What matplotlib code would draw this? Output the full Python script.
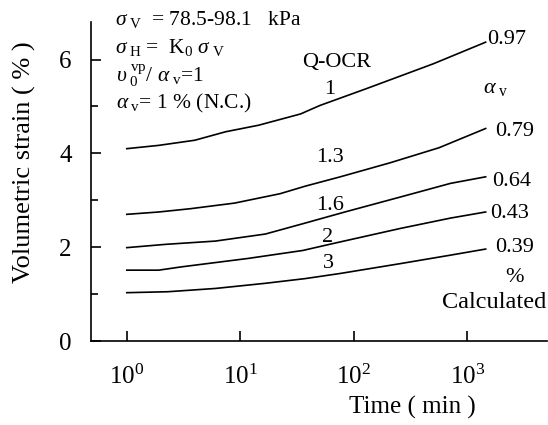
import matplotlib
matplotlib.use("Agg")
import matplotlib.pyplot as plt
from matplotlib.ticker import FixedLocator, NullLocator

plt.rcParams['font.family'] = ['Liberation Serif', 'DejaVu Serif']
plt.rcParams['mathtext.fontset'] = 'custom'
plt.rcParams['mathtext.rm'] = 'Liberation Serif'
plt.rcParams['mathtext.it'] = 'Liberation Serif:italic'
plt.rcParams['mathtext.bf'] = 'Liberation Serif:bold'

# Volumetric strain (%) against elapsed time (min) for each Q-OCR
ocr_labels = ['1', '1.3', '1.6', '2', '3']
alpha_v_labels = ['0.97', '0.79', '0.64', '0.43', '0.39']

time_ocr1 = [1, 1.91, 3.98, 7.41, 14.5, 33.9, 50.1, 129, 501, 1445]
strain_ocr1 = [4.10, 4.17, 4.28, 4.46, 4.60, 4.84, 5.02, 5.38, 5.91, 6.37]

time_ocr13 = [1, 1.91, 3.63, 8.91, 22.4, 37.2, 75.9, 209, 562, 1445]
strain_ocr13 = [2.70, 2.75, 2.82, 2.94, 3.14, 3.30, 3.50, 3.80, 4.12, 4.53]

time_ocr16 = [1, 2.19, 6.03, 16.6, 35.5, 83.2, 257, 708, 1445]
strain_ocr16 = [1.99, 2.06, 2.13, 2.28, 2.50, 2.75, 3.07, 3.36, 3.50]

time_ocr2 = [1, 1.91, 3.02, 11.7, 35.5, 66.1, 257, 708, 1445]
strain_ocr2 = [1.51, 1.51, 1.58, 1.76, 1.93, 2.08, 2.40, 2.62, 2.75]

time_ocr3 = [1, 2.29, 6.03, 16.6, 37.2, 75.9, 257, 708, 1445]
strain_ocr3 = [1.03, 1.05, 1.12, 1.23, 1.33, 1.44, 1.65, 1.83, 1.96]

x_ticks = [1, 10, 100, 1000]
x_ticklabels = ['$10^{0}$', '$10^{1}$', '$10^{2}$', '$10^{3}$']
y_ticks = [0, 2, 4, 6]
y_minor_ticks = [1, 3, 5]

W, H = 548, 425
fig = plt.figure(figsize=(W / 100, H / 100), dpi=100)
ax = fig.add_axes([91 / W, (H - 341) / H, (547 - 91) / W, (341 - 22) / H])

curves = [
    (time_ocr1, strain_ocr1),
    (time_ocr13, strain_ocr13),
    (time_ocr16, strain_ocr16),
    (time_ocr2, strain_ocr2),
    (time_ocr3, strain_ocr3),
]
for t, s in curves:
    ax.plot(t, s, color='black', lw=1.2)

ax.set_xscale('log')
ax.set_xlim(10 ** -0.315, 10 ** 3.70)
ax.set_ylim(0, 6.8)
ax.xaxis.set_major_locator(FixedLocator(x_ticks))
ax.xaxis.set_minor_locator(NullLocator())
ax.set_xticklabels(x_ticklabels)
ax.yaxis.set_major_locator(FixedLocator(y_ticks))
ax.yaxis.set_minor_locator(FixedLocator(y_minor_ticks))

for side in ('top', 'right'):
    ax.spines[side].set_visible(False)
for side in ('left', 'bottom'):
    ax.spines[side].set_linewidth(1.2)

ax.tick_params(axis='x', which='major', direction='in', length=7,
               width=1.2, labelsize=18, pad=17)
ax.tick_params(axis='y', which='major', direction='in', length=7,
               width=1.2, labelsize=18, pad=14)
ax.tick_params(axis='y', which='minor', direction='in', length=5, width=1.2)

ax.set_ylabel('Volumetric strain ( % )', fontsize=19)
ax.set_xlabel('Time ( min )', fontsize=18)
ax.xaxis.label.set_va('center')
ax.yaxis.label.set_va('center')
ax.xaxis.set_label_coords((412 - 91) / (547 - 91), -(407 - 341) / (341 - 22))
ax.yaxis.set_label_coords(-(91 - 24) / (547 - 91), (341 - 162) / (341 - 22))


def ftext(px, py, s, size, ha='left', va='center'):
    fig.text(px / W, 1 - py / H, s, fontsize=size, ha=ha, va=va)


# condition notes
ftext(115, 20, r'$\sigma_{\ \rm V}$  = 78.5-98.1   kPa', 15.5)
ftext(115, 48, r'$\sigma_{\ \rm H}$ =  K$_0$ $\sigma_{\ \rm V}$', 15.5)
ftext(116, 76, r'$\upsilon_{\ 0}^{\ \rm vp}$/ $\alpha_{\ \rm v}$=1', 15.5)
ftext(116, 103, r'$\alpha_{\ \rm v}$= 1 % (N.C.)', 15.5)

# curve labels
ftext(337, 62, 'Q-OCR', 16, ha='center')
ocr_pos = [(330, 90), (330, 158), (330, 205), (328, 237), (328, 263)]
for lbl, (px, py) in zip(ocr_labels, ocr_pos):
    ftext(px, py, lbl, 16, ha='center')

alpha_pos = [(487, 40), (495, 132), (492, 182), (490, 213), (495, 248)]
for lbl, (px, py) in zip(alpha_v_labels, alpha_pos):
    ftext(px, py, lbl, 16)

ftext(483, 88, r'$\alpha_{\ \rm v}$', 16)
ftext(514, 277, '%', 16, ha='center')
ftext(546, 303, 'Calculated', 17.5, ha='right')

fig.savefig('out.png', dpi=100)
